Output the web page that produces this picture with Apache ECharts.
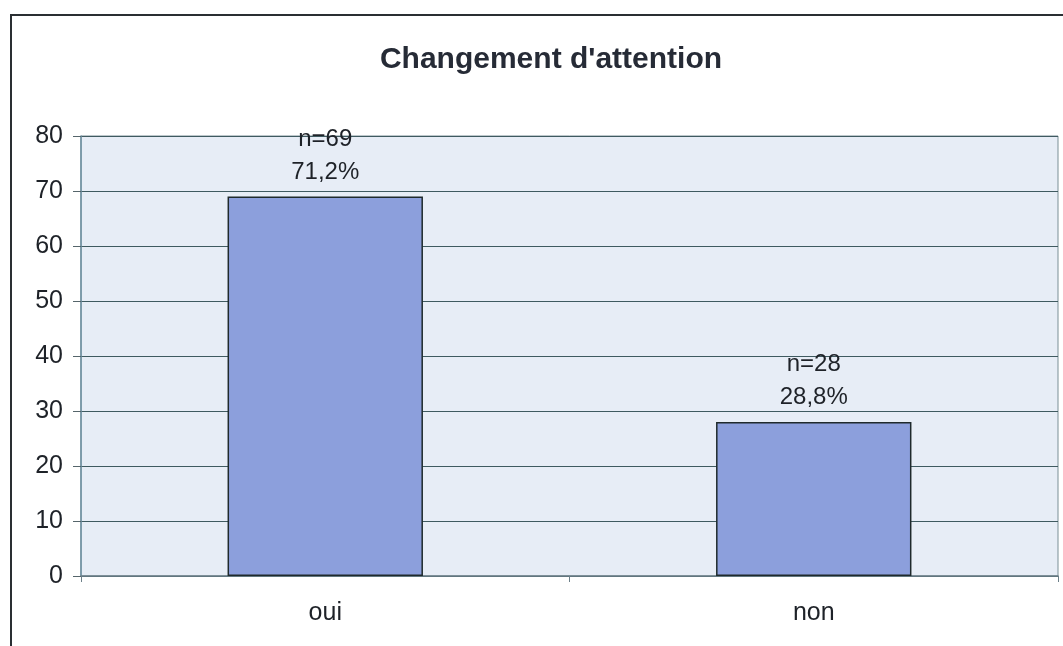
<!DOCTYPE html>
<html><head><meta charset="utf-8">
<script src="https://cdn.jsdelivr.net/npm/echarts@6/dist/echarts.min.js"></script>
<style>html,body{margin:0;padding:0;background:#fff}#c{width:1063px;height:646px}</style>
</head><body><div id="c"></div>
<script>
var categories = ['oui', 'non'];
var counts = [69, 28];
var percents = ['71,2%', '28,8%'];
var yTicks = [0, 10, 20, 30, 40, 50, 60, 70, 80];

var chart = echarts.init(document.getElementById('c'), null, {renderer: 'canvas'});
chart.setOption({
  backgroundColor: '#ffffff',
  animation: false,
  title: {
    text: "Changement d'attention",
    left: 546, top: 40, textAlign: 'center',
    textStyle: {fontFamily: 'Liberation Sans', fontSize: 30, fontWeight: 'bold', color: '#262b36'}
  },
  graphic: [{
    type: 'rect', silent: true, z: -1,
    shape: {x: 11, y: 15, width: 1070, height: 660},
    style: {fill: 'none', stroke: '#2a2f33', lineWidth: 2}
  }],
  grid: {left: 81, right: 5, top: 136, bottom: 70, show: true, backgroundColor: '#e7edf6', borderColor: '#7b8f96', borderWidth: 1},
  xAxis: {
    type: 'category', data: categories,
    axisLine: {lineStyle: {color: '#6d8089', width: 1.5}},
    axisTick: {show: true, length: 6, lineStyle: {color: '#6d8089'}},
    axisLabel: {fontFamily: 'Liberation Sans', fontSize: 25, color: '#1e2228', margin: 25}
  },
  yAxis: {
    type: 'value', min: 0, max: 80, interval: 10,
    axisLine: {show: true, lineStyle: {color: '#6d8fa0', width: 1.5}},
    axisTick: {show: true, length: 8, lineStyle: {color: '#55656b'}},
    splitLine: {lineStyle: {color: '#3f5a60', width: 1.2}},
    axisLabel: {fontFamily: 'Liberation Sans', fontSize: 25, color: '#1e2228', margin: 18}
  },
  series: [{
    type: 'bar', barWidth: '40%',
    data: counts,
    itemStyle: {color: '#8c9fdc', borderColor: '#1f2a2c', borderWidth: 1.5},
    label: {
      show: true, position: 'top', distance: 8,
      fontFamily: 'Liberation Sans', fontSize: 24, color: '#1e2228', lineHeight: 33,
      formatter: function (p) { return 'n=' + counts[p.dataIndex] + '\n' + percents[p.dataIndex]; }
    }
  }]
});
</script></body></html>
